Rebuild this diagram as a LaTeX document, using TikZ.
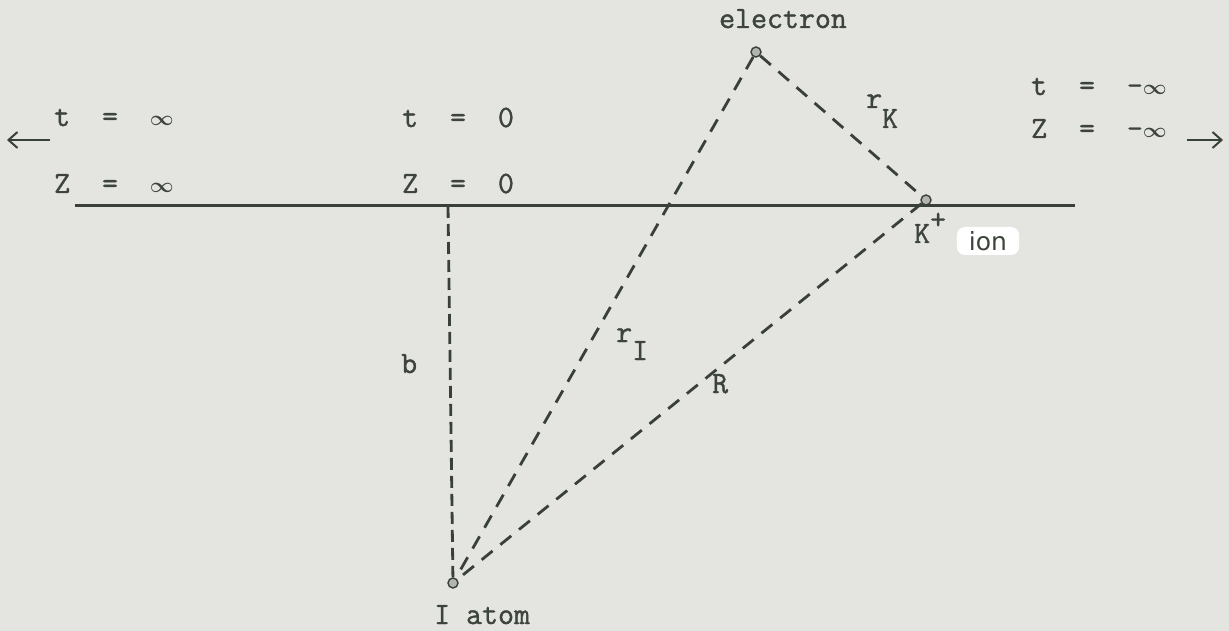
\documentclass[tikz,border=0pt]{standalone}
\usepackage{fontspec}
\setmonofont[FakeBold=1.2]{Latin Modern Mono}
\newfontfamily\ionfont{DejaVu Sans}
\usetikzlibrary{arrows.meta}
\definecolor{paper}{HTML}{E4E5E0}
\definecolor{ink}{HTML}{3C443C}
\definecolor{linecol}{HTML}{384038}
\newcommand{\infsym}{{\fontsize{22}{22}\selectfont\boldmath$\infty$}}
\tikzset{
  lbl/.style={text=ink,font=\ttfamily\fontsize{31}{34}\selectfont,inner sep=0pt},
  particle/.style={circle,draw=linecol,fill=ink!40,line width=1.4pt,inner sep=0pt,minimum size=10pt},
  dashline/.style={draw=linecol,line width=2.8pt,dash pattern=on 14pt off 10pt},
  vdash/.style={draw=linecol,line width=2.8pt,dash pattern=on 12pt off 6pt},
  axis/.style={draw=linecol,line width=3pt},
  farrow/.style={draw=linecol,line width=2pt,-{Straight Barb[length=9pt,width=16pt]}}
}
\begin{document}
\begin{tikzpicture}[x=1pt,y=-1pt]
\fill[paper] (0,0) rectangle (1229,631);
\useasboundingbox (0,0) rectangle (1229,631);
% axis
\coordinate (axL) at (75,206);
\coordinate (axR) at (1075,206);
\coordinate (z0) at (448,206);
\draw[axis] (axL) -- (axR);
% particles
\node[particle] (e) at (756,52) {};
\node[particle] (K) at (926,200) {};
\node[particle] (I) at (453,583) {};
% dashed connectors
\draw[vdash] (z0) -- (I);
\draw[dashline] (e) -- (I);
\draw[dashline] (e) -- (K);
\draw[dashline] (K) -- (I);
% labels
\node[lbl,anchor=base] (elab) at (783,28) {electron};
\node[lbl,anchor=base west] (Ilab) at (434,624) {I atom};
\node[lbl,anchor=base west] (tinf) at (54,126) {t\ \ =\ \ \infsym};
\node[lbl,anchor=base west] (zinf) at (54,193) {Z\ \ =\ \ \infsym};
\node[lbl,anchor=base west] (tzero) at (402,127) {t\ \ =\ \ 0};
\node[lbl,anchor=base west] (zzero) at (402,193) {Z\ \ =\ \ 0};
\node[lbl,anchor=base west] (tminf) at (1031,95) {t\ \ =\ \ -\infsym};
\node[lbl,anchor=base west] (zminf) at (1031,138) {Z\ \ =\ \ -\infsym};
\node[lbl,anchor=base west] (blab) at (401,373) {b};
\node[lbl,anchor=base west] (rIlab) at (616,342) {r\raisebox{-18pt}{I}};
\node[lbl,anchor=base west] (Rlab) at (712,393) {R};
\node[lbl,anchor=base west] (rKlab) at (866,108) {r\raisebox{-20pt}{K}};
\node[lbl,anchor=base west] (Kplab) at (914,243) {K\raisebox{14pt}{+}};
\node[fill=white,rounded corners=8pt,text=ink,font=\ionfont\fontsize{25}{28}\selectfont,inner xsep=12pt,inner ysep=3pt,minimum height=28pt] (ionlab) at (988,241) {ion};
% direction arrows
\coordinate (la1) at (50,140);
\coordinate (la2) at (7,140);
\draw[farrow] (la1) -- (la2);
\coordinate (ra1) at (1187,140);
\coordinate (ra2) at (1223,140);
\draw[farrow] (ra1) -- (ra2);
\end{tikzpicture}
\end{document}
